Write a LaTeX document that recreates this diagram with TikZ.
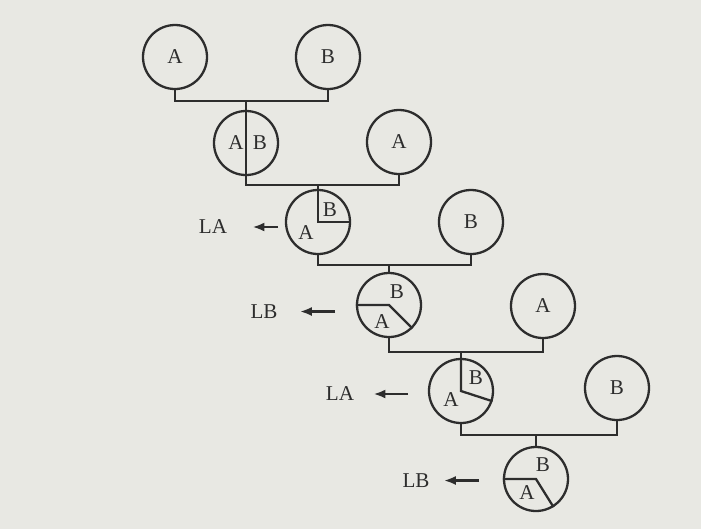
\documentclass[tikz,border=0pt]{standalone}
\usepackage{fontspec}
\setmainfont{Liberation Serif}
\usetikzlibrary{arrows.meta,positioning}
\definecolor{paper}{RGB}{232,232,227}
\definecolor{ink}{RGB}{45,45,45}
\tikzset{
  >={Latex[length=2.4mm,width=1.8mm]},
  ring/.style={circle,draw=ink,line width=1.3pt,minimum size=1.28cm,inner sep=0pt,
    font=\fontsize{12}{14}\selectfont,text=ink},
  part/.style={font=\fontsize{12}{14}\selectfont,text=ink,inner sep=0pt},
  wire/.style={draw=ink,line width=1.3pt},
  pointer/.style={->,draw=ink,line width=1.4pt,shorten >=#1},
  side/.style={font=\fontsize{12}{14}\selectfont,text=ink,inner sep=0pt},
}

\begin{document}
\begin{tikzpicture}
    \fill[paper] (0,0) rectangle (14.02,-10.58);
    \foreach \n/\x/\y/\t in {r1a/3.50/-1.14/A,r1b/6.56/-1.14/B,r2a/7.98/-2.84/A,r3b/9.42/-4.44/B,r4a/10.86/-6.12/A,r5b/12.34/-7.76/B}
      \node[ring] (\n) at (\x,\y) {\t};
    \foreach \n/\x/\y in {c2/4.92/-2.86,c3/6.36/-4.44,c4/7.78/-6.10,c5/9.22/-7.82,c6/10.72/-9.58}
      \node[ring] (\n) at (\x,\y) {};
    \foreach \n/\y in {b1/-2.02,b2/-3.70,b3/-5.30,b4/-7.04,b5/-8.70}
      \coordinate (\n) at (0,\y);
    \foreach \l/\r/\k/\b in {r1a/r1b/c2/b1,c2/r2a/c3/b2,c3/r3b/c4/b3,c4/r4a/c5/b4,c5/r5b/c6/b5}
      \draw[wire] (\l.south) -- (\l.south |- \b) -| (\r.south) (\k.north |- \b) -- (\k.north);
    \draw[wire] (c2.north) -- (c2.south);
    \draw[wire] (c3.north) -- (c3.center) -- (c3.east);
    \draw[wire] (c4.west) -- (c4.center) -- (c4.-45);
    \draw[wire] (c5.north) -- (c5.center) -- (c5.-18);
    \draw[wire] (c6.west) -- (c6.center) -- (c6.-58);
    \foreach \n/\t/\x/\y in {c2a/A/4.72/-2.86,c2b/B/5.20/-2.86,c3b/B/6.60/-4.20,c3a/A/6.12/-4.66,c4b/B/7.94/-5.84,c4a/A/7.64/-6.44,c5b/B/9.52/-7.56,c5a/A/9.02/-8.00,c6b/B/10.86/-9.30,c6a/A/10.54/-9.86}
      \node[part] (\n) at (\x,\y) {\t};
    \foreach \n/\t/\x/\y/\tx/\s in {la1/LA/4.26/-4.54/5.56/0.50,lb1/LB/5.28/-6.23/6.70/0.44,la2/LA/6.80/-7.88/8.16/0.38,lb2/LB/8.32/-9.61/9.58/0.28}{
      \node[side] (\n) at (\x,\y) {\t};
      \coordinate (\n tail) at (\tx,\y);
      \draw[pointer=\s cm] (\n tail) -- (\n.east);
    }
\end{tikzpicture}
\end{document}
